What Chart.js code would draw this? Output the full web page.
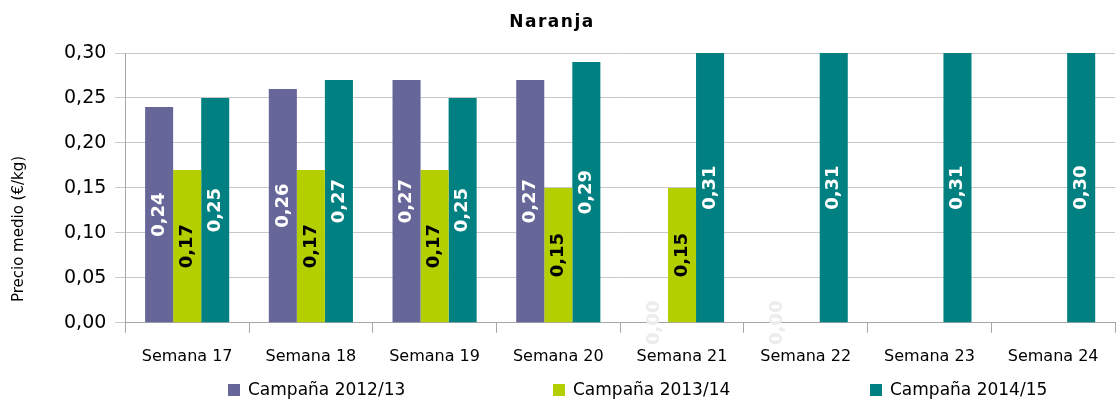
<!DOCTYPE html>
<html>
<head>
<meta charset="utf-8">
<script src="https://cdn.jsdelivr.net/npm/chart.js@4"></script>
<style>
  body { margin: 0; background: #fff; }
  #wrap { width: 1117px; height: 401px; }
</style>
</head>
<body>
<div id="wrap"><canvas id="chart"></canvas></div>
<script>
const weeks = ["Semana 17", "Semana 18", "Semana 19", "Semana 20", "Semana 21", "Semana 22", "Semana 23", "Semana 24"];
const seriesNames = ["Campaña 2012/13", "Campaña 2013/14", "Campaña 2014/15"];
const c2012 = [0.24, 0.26, 0.27, 0.27, 0.00, 0.00, null, null];
const c2013 = [0.17, 0.17, 0.17, 0.15, 0.15, null, null, null];
const c2014 = [0.25, 0.27, 0.25, 0.29, 0.31, 0.31, 0.31, 0.30];
const yTicks = [0, 0.05, 0.10, 0.15, 0.20, 0.25, 0.30];
const chartTitle = "Naranja";
const yTitle = "Precio medio (€/kg)";

const fmt = (v) => v.toFixed(2).replace(".", ",");
const labelColors = ["#ffffff", "#000000", "#ffffff"];
const font = "'DejaVu Sans'";

// draws the values rotated inside each bar
const barLabels = {
  id: "barLabels",
  afterDatasetsDraw(chart) {
    const ctx = chart.ctx;
    const area = chart.chartArea;
    chart.data.datasets.forEach((ds, i) => {
      const meta = chart.getDatasetMeta(i);
      meta.data.forEach((bar, j) => {
        const v = ds.data[j];
        if (v == null) return;
        const top = Math.max(bar.y, area.top);
        const cy = (top + bar.base) / 2;
        ctx.save();
        ctx.translate(bar.x, cy);
        ctx.rotate(-Math.PI / 2);
        ctx.font = "bold 18px " + font;
        ctx.textAlign = "center";
        ctx.textBaseline = "middle";
        ctx.fillStyle = v === 0 ? "#ececec" : labelColors[i];
        ctx.fillText(fmt(v), 0, 0);
        ctx.restore();
      });
    });
  }
};

// title, legend spread across the bottom, y axis title
const extras = {
  id: "extras",
  afterDraw(chart) {
    const ctx = chart.ctx;
    ctx.save();
    ctx.fillStyle = "#000";
    ctx.font = "bold 17px " + font;
    ctx.textAlign = "center";
    ctx.textBaseline = "middle";
    ctx.letterSpacing = "1.5px";
    ctx.fillText(chartTitle, 552, 23);
    ctx.letterSpacing = "0px";

    const xs = [228, 553, 870];
    const y = 390;
    ctx.font = "17px " + font;
    ctx.textAlign = "left";
    chart.data.datasets.forEach((ds, i) => {
      ctx.fillStyle = ds.backgroundColor;
      ctx.fillRect(xs[i], y - 6, 12, 12);
      ctx.fillStyle = "#000";
      ctx.fillText(ds.label, xs[i] + 20, y + 1);
    });

    ctx.translate(19, 229);
    ctx.rotate(-Math.PI / 2);
    ctx.font = "15px " + font;
    ctx.textAlign = "center";
    ctx.fillText(yTitle, 0, 0);
    ctx.restore();
  }
};

new Chart(document.getElementById("chart"), {
  type: "bar",
  data: {
    labels: weeks,
    datasets: [
      { label: seriesNames[0], data: c2012, backgroundColor: "#666699" },
      { label: seriesNames[1], data: c2013, backgroundColor: "#b3cf00" },
      { label: seriesNames[2], data: c2014, backgroundColor: "#008080" }
    ]
  },
  options: {
    responsive: true,
    maintainAspectRatio: false,
    animation: false,
    layout: { padding: { left: 55, right: 2, top: 53, bottom: 21 } },
    datasets: {
      bar: { categoryPercentage: 0.68, barPercentage: 1.0 }
    },
    plugins: {
      legend: { display: false },
      tooltip: { enabled: false }
    },
    scales: {
      x: {
        grid: {
          offset: true,
          drawOnChartArea: false,
          color: "#a6a6a6",
          tickLength: 10
        },
        border: { color: "#a6a6a6" },
        ticks: {
          color: "#000",
          font: { family: font, size: 16 },
          maxRotation: 0,
          padding: 14
        }
      },
      y: {
        min: 0,
        max: 0.30,
        afterBuildTicks: (axis) => {
          axis.ticks = yTicks.map((v) => ({ value: v }));
        },
        grid: { color: "#c8c8c8", tickLength: 10 },
        border: { color: "#a6a6a6" },
        ticks: {
          color: "#000",
          font: { family: font, size: 19 },
          padding: 9,
          callback: (v) => fmt(v)
        }
      }
    }
  },
  plugins: [barLabels, extras]
});
</script>
</body>
</html>
